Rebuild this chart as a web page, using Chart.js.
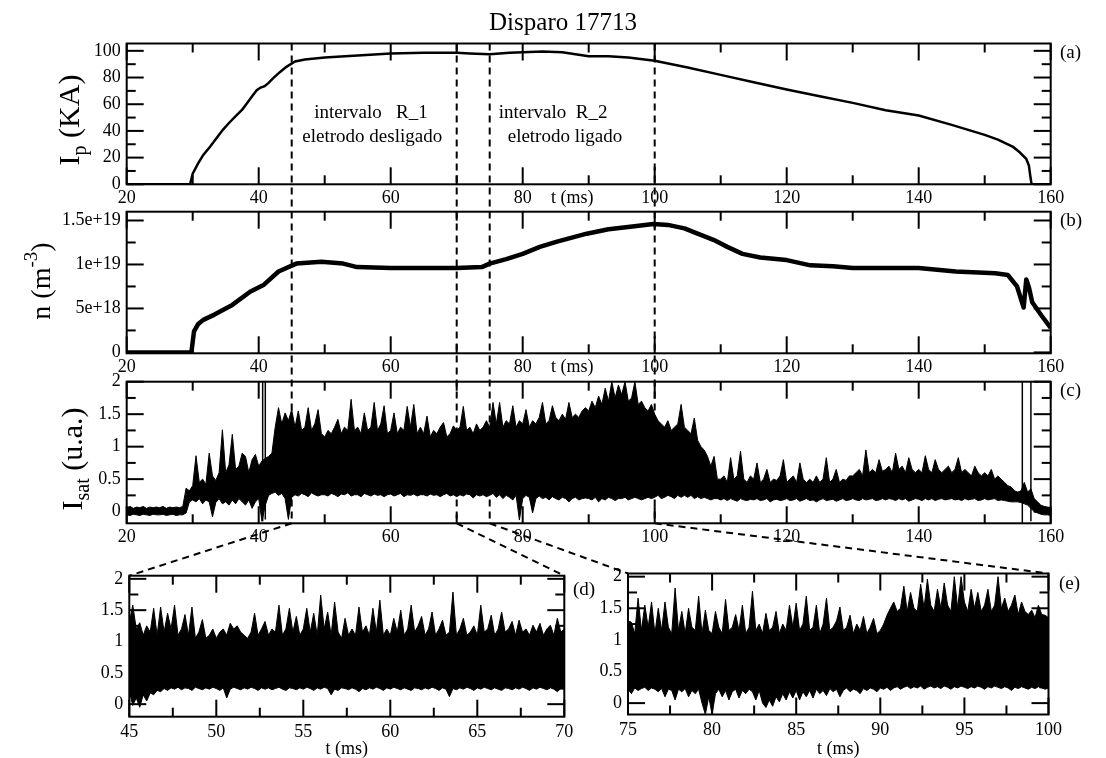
<!DOCTYPE html>
<html>
<head>
<meta charset="utf-8">
<title>Disparo 17713</title>
<script src="https://cdn.jsdelivr.net/npm/chart.js@4.4.1/dist/chart.umd.min.js"></script>
<style>
  html, body { margin: 0; padding: 0; background: #fff; }
  #wrap { position: relative; width: 1106px; height: 758px; overflow: hidden; }
  #wrap canvas { position: absolute; left: 0; top: 0; }
</style>
</head>
<body>
<div id="wrap">
  <canvas id="panelA" width="1106" height="758"></canvas>
  <canvas id="panelB" width="1106" height="758"></canvas>
  <canvas id="panelC" width="1106" height="758"></canvas>
  <canvas id="panelD" width="1106" height="758"></canvas>
  <canvas id="panelE" width="1106" height="758"></canvas>
  <canvas id="overlay" width="1106" height="758"></canvas>
</div>
<script>
// ---------------- data ----------------
// (a) plasma current, kA
const ipTime = [20, 29.6, 30.0, 30.8, 31.6, 32.6, 33.6, 34.6, 35.6, 36.7, 37.5, 38.2, 39.0, 39.7, 40.3, 40.9,
  41.5, 42.2, 43.2, 44.2, 45.5, 47, 50, 55, 60, 65, 70, 72, 75, 78, 80, 83, 86, 88, 90, 93, 96, 100,
  105, 110, 115, 120, 125, 130, 135, 140, 145, 147, 150, 152, 154.3, 155.3, 156.3, 156.7, 156.9, 157.1, 160];
const ipKA = [0, 0, 8, 15.5, 22, 28, 34.5, 41, 46.5, 52, 56, 60.5, 66, 70.5, 72.5, 73.5,
  76, 79.5, 84, 88, 92, 93.5, 95, 96.5, 98, 98.5, 98.5, 98, 97.5, 98.5, 99, 99.5, 99, 97.5, 96, 96, 95, 92.5,
  87.5, 82, 76.5, 71, 66, 61, 55.5, 51.5, 44.5, 41.5, 37, 33.5, 28, 24, 19, 14, 6.5, 0, 0];

// (b) line density, m^-3
const densTime = [20, 29.8, 30.2, 30.8, 31.6, 33.3, 36, 38.7, 40.8, 43, 45.7, 49.5, 52.8, 54.9, 60, 65, 70,
  73.8, 75, 77.5, 80, 82.6, 85.2, 89.7, 93, 96.3, 99.8, 102, 104.5, 106.5, 108.9, 111, 113.3, 116, 120,
  123.6, 127, 130, 135, 140, 145.6, 151.6, 153.5, 154.9, 155.9, 156.3, 156.7, 157.2, 158.6, 160];
const densM3 = [0, 0, 2.4e18, 3.2e18, 3.7e18, 4.3e18, 5.4e18, 6.9e18, 7.7e18, 9.2e18, 10.1e18, 10.3e18,
  10.1e18, 9.7e18, 9.6e18, 9.6e18, 9.6e18, 9.7e18, 10.1e18, 10.6e18, 11.2e18, 12.0e18, 12.6e18, 13.5e18,
  14.0e18, 14.3e18, 14.6e18, 14.5e18, 14.1e18, 13.5e18, 12.8e18, 12.0e18, 11.2e18, 10.8e18, 10.5e18,
  9.9e18, 9.8e18, 9.6e18, 9.6e18, 9.6e18, 9.2e18, 9.0e18, 8.8e18, 7.5e18, 5.1e18, 8.3e18, 7.4e18,
  5.7e18, 4.2e18, 2.8e18];

// (c) ion saturation current, upper and lower envelope sampled every 0.5 ms from 20 ms
const isatStart = 20, isatStep = 0.5;
const isatUpper = [
  0.06,0.08,0.05,0.07,0.06,0.08,0.05,0.07,0.06,0.07,
  0.06,0.08,0.05,0.07,0.06,0.07,0.06,0.08,0.36,0.32,
  0.40,0.86,0.45,0.50,0.42,0.90,0.55,0.48,0.60,1.26,
  0.60,0.72,1.19,0.65,0.70,0.90,0.85,0.60,0.80,0.88,
  0.70,0.78,0.82,0.85,0.90,1.30,1.60,1.35,1.52,1.40,
  1.57,1.30,1.55,1.25,1.30,1.60,1.25,1.35,1.57,1.20,
  1.15,1.25,1.20,1.30,1.42,1.20,1.30,1.25,1.73,1.25,
  1.30,1.20,1.52,1.25,1.30,1.68,1.25,1.35,1.63,1.20,
  1.25,1.52,1.20,1.30,1.25,1.62,1.30,1.65,1.20,1.30,
  1.20,1.47,1.15,1.25,1.20,1.30,1.37,1.15,1.20,1.32,
  1.25,1.30,1.62,1.25,1.30,1.20,1.35,1.25,1.30,1.40,
  1.30,1.68,1.35,1.68,1.30,1.40,1.35,1.63,1.30,1.40,
  1.35,1.57,1.30,1.40,1.35,1.45,1.68,1.35,1.40,1.63,
  1.45,1.40,1.50,1.42,1.68,1.45,1.50,1.45,1.55,1.60,
  1.55,1.70,1.60,1.78,1.65,1.90,1.70,2.00,1.75,1.95,
  1.80,2.00,1.70,1.75,2.00,1.65,1.70,1.60,1.55,1.65,
  1.50,1.40,1.35,1.30,1.40,1.25,1.30,1.35,1.65,1.30,
  1.25,1.20,1.44,1.10,1.00,0.95,0.85,0.70,0.85,0.50,
  0.50,0.55,0.45,0.83,0.50,0.55,0.93,0.50,0.45,0.55,
  0.50,0.75,0.45,0.50,0.65,0.45,0.50,0.48,0.55,0.80,
  0.45,0.50,0.55,0.45,0.75,0.50,0.45,0.50,0.45,0.55,
  0.45,0.50,0.83,0.45,0.50,0.65,0.45,0.50,0.48,0.55,
  0.55,0.60,0.65,0.55,0.95,0.60,0.65,0.60,0.80,0.62,
  0.65,0.70,0.60,0.90,0.65,0.70,0.60,0.83,0.65,0.60,
  0.65,0.60,0.86,0.65,0.60,0.80,0.65,0.60,0.65,0.70,
  0.60,0.65,0.83,0.60,0.65,0.60,0.55,0.70,0.60,0.55,
  0.60,0.55,0.65,0.50,0.55,0.50,0.45,0.40,0.38,0.32,
  0.30,0.32,0.45,0.30,0.35,0.20,0.15,0.10,0.08,0.07,
  0.06];
const isatLower = [
  -0.05,-0.06,-0.04,-0.05,-0.06,-0.04,-0.05,-0.06,-0.04,-0.05,
  -0.05,-0.04,-0.06,-0.05,-0.04,-0.06,-0.05,-0.05,-0.02,0.15,
  0.18,0.15,0.20,0.12,0.18,0.15,-0.08,0.14,0.20,0.12,
  0.15,0.10,0.18,0.12,0.20,0.15,0.10,0.18,0.05,0.15,
  0.20,-0.15,0.10,0.25,0.28,0.30,0.25,0.28,0.20,-0.12,
  0.22,0.26,0.24,0.28,0.26,0.23,0.29,0.26,0.24,0.26,
  0.26,0.24,0.28,0.26,0.23,0.27,0.26,0.29,0.24,0.26,
  0.26,0.23,0.28,0.26,0.24,0.27,0.25,0.26,0.23,0.26,
  0.27,0.24,0.26,0.28,0.23,0.26,0.25,0.27,0.24,0.26,
  0.26,0.24,0.27,0.25,0.26,0.23,0.26,0.28,0.24,0.26,
  0.23,0.26,0.24,0.27,0.26,0.21,0.26,0.24,0.26,0.23,
  0.25,0.28,0.22,0.26,0.20,0.25,0.22,0.18,0.25,-0.13,
  0.20,0.25,0.22,-0.02,0.20,0.24,0.20,0.22,0.18,0.23,
  0.20,0.18,0.22,0.20,0.15,0.20,0.22,0.18,0.20,0.21,
  0.20,0.18,0.22,0.15,0.20,0.18,0.22,0.20,0.17,0.20,
  0.20,0.22,0.18,0.20,0.22,0.20,0.18,0.20,0.22,0.20,
  0.22,0.25,0.20,0.22,0.25,0.23,0.20,0.25,0.22,0.25,
  0.22,0.25,0.20,0.23,0.20,0.22,0.20,0.18,0.20,0.20,
  0.18,0.20,0.17,0.20,0.18,0.16,0.20,0.18,0.17,0.19,
  0.18,0.20,0.17,0.18,0.20,0.15,0.18,0.19,0.17,0.18,
  0.20,0.17,0.18,0.20,0.16,0.18,0.20,0.17,0.18,0.15,
  0.18,0.20,0.17,0.18,0.19,0.16,0.18,0.20,0.17,0.18,
  0.20,0.18,0.17,0.20,0.18,0.19,0.20,0.17,0.18,0.20,
  0.18,0.20,0.19,0.17,0.20,0.18,0.20,0.16,0.18,0.20,
  0.19,0.17,0.20,0.18,0.20,0.17,0.19,0.20,0.18,0.19,
  0.20,0.18,0.19,0.17,0.20,0.18,0.19,0.20,0.17,0.18,
  0.20,0.18,0.19,0.20,0.17,0.18,0.17,0.16,0.15,0.15,
  0.15,0.14,0.12,0.10,0.05,0.00,-0.02,-0.04,-0.05,-0.05,
  -0.06];
// saturated excursions of the probe signal (full-scale strokes)
const isatSatTime = [40.6, 41.0, 155.7, 157.0];
const isatSatLow  = [-0.15, -0.12, -0.18, -0.15];
const isatSatHigh = [2.0, 2.0, 2.0, 2.0];

// (d) and (e) detail windows, envelopes sampled every 0.2 ms
const zoomStep = 0.2;
const zoomDStart = 45;
const zoomDUpper = [
  1.30,1.58,1.20,1.30,1.10,1.25,1.15,1.53,1.10,1.55,
  1.15,1.45,1.20,1.58,1.10,1.20,1.43,1.10,1.55,1.05,
  1.15,1.35,1.05,1.10,1.20,1.05,1.15,1.20,1.10,1.29,
  1.20,1.25,1.15,1.10,1.05,1.15,1.45,1.10,1.20,1.32,
  1.10,1.20,1.15,1.58,1.10,1.20,1.53,1.15,1.40,1.10,
  1.20,1.53,1.15,1.45,1.10,1.74,1.20,1.47,1.10,1.63,
  1.15,1.05,1.37,1.10,1.20,1.10,1.55,1.15,1.25,1.10,
  1.53,1.15,1.66,1.10,1.20,1.10,1.37,1.15,1.50,1.10,
  1.20,1.58,1.15,1.25,1.40,1.10,1.20,1.47,1.10,1.20,
  1.34,1.10,1.15,1.79,1.10,1.20,1.37,1.10,1.15,1.25,
  1.10,1.58,1.15,1.20,1.42,1.10,1.20,1.47,1.15,1.20,
  1.32,1.10,1.34,1.15,1.20,1.10,1.26,1.15,1.29,1.10,
  1.20,1.26,1.10,1.37,1.15,1.20];
const zoomDLower = [
  0.20,-0.02,0.10,-0.05,0.15,0.05,0.18,0.15,0.22,0.20,
  0.25,0.22,0.26,0.24,0.27,0.23,0.26,0.25,0.22,0.27,
  0.25,0.23,0.26,0.24,0.27,0.25,0.22,0.26,0.10,0.24,
  0.27,0.25,0.23,0.26,0.24,0.27,0.25,0.22,0.26,0.24,
  0.26,0.23,0.25,0.27,0.24,0.22,0.26,0.25,0.23,0.26,
  0.24,0.27,0.25,0.22,0.26,0.24,0.27,0.25,0.15,0.24,
  0.22,0.26,0.25,0.23,0.26,0.24,0.20,0.25,0.23,0.26,
  0.24,0.27,0.25,0.22,0.26,0.24,0.27,0.25,0.23,0.26,
  0.24,0.22,0.26,0.25,0.23,0.26,0.24,0.27,0.25,0.22,
  0.26,0.24,0.12,0.25,0.23,0.26,0.24,0.27,0.25,0.22,
  0.26,0.24,0.27,0.25,0.23,0.26,0.24,0.22,0.26,0.25,
  0.23,0.26,0.24,0.27,0.25,0.22,0.26,0.24,0.27,0.25,
  0.23,0.26,0.24,0.20,0.25,0.24];
const zoomEStart = 75;
const zoomEUpper = [
  1.30,1.28,1.10,1.66,1.15,1.55,1.20,1.60,1.10,1.50,
  1.15,1.60,1.20,1.10,1.82,1.15,1.45,1.10,1.50,1.20,
  1.15,1.69,1.10,1.47,1.15,1.10,1.45,1.20,1.10,1.64,
  1.15,1.20,1.40,1.15,1.55,1.10,1.20,1.77,1.15,1.25,
  1.10,1.42,1.15,1.20,1.45,1.10,1.25,1.15,1.55,1.20,
  1.58,1.15,1.25,1.69,1.15,1.20,1.55,1.10,1.25,1.66,
  1.15,1.20,1.30,1.52,1.15,1.20,1.39,1.10,1.25,1.15,
  1.37,1.10,1.20,1.34,1.10,1.15,1.25,1.39,1.50,1.60,
  1.45,1.50,1.85,1.45,1.75,1.50,1.45,1.88,1.50,1.96,
  1.55,1.45,1.80,1.50,1.90,1.55,1.45,2.00,1.50,2.00,
  1.60,1.45,1.80,1.50,1.75,1.45,1.55,1.80,1.45,1.55,
  2.00,1.50,1.66,1.45,1.55,1.71,1.40,1.60,1.45,1.40,
  1.47,1.35,1.55,1.40,1.39,1.35];
const zoomELower = [
  0.22,0.15,0.24,0.20,0.23,0.25,0.20,0.24,0.22,0.18,
  0.23,0.10,0.22,0.20,0.05,0.22,0.18,0.23,0.10,0.20,
  0.15,0.22,0.00,-0.18,0.10,-0.18,0.15,0.22,0.10,0.20,
  0.05,0.18,0.22,0.08,0.20,0.15,0.22,0.18,0.05,0.20,
  0.00,-0.07,0.05,-0.05,0.10,0.02,0.15,0.05,0.18,0.08,
  0.20,0.05,0.18,0.10,0.20,0.08,0.22,0.15,0.20,0.12,
  0.23,0.18,0.22,0.10,0.20,0.24,0.18,0.22,0.20,0.15,
  0.23,0.20,0.24,0.22,0.18,0.24,0.22,0.25,0.20,0.24,
  0.26,0.22,0.25,0.27,0.23,0.26,0.24,0.27,0.22,0.25,
  0.27,0.24,0.26,0.23,0.27,0.25,0.22,0.26,0.24,0.27,
  0.25,0.23,0.26,0.24,0.27,0.25,0.22,0.26,0.24,0.27,
  0.25,0.23,0.26,0.24,0.20,0.25,0.23,0.26,0.24,0.22,
  0.25,0.23,0.26,0.24,0.22,0.24];

// tick positions (labelled where they fall on the major step)
const timeTicks  = [20, 30, 40, 50, 60, 70, 80, 90, 100, 110, 120, 130, 140, 150, 160];
const ipTicks    = [0, 10, 20, 30, 40, 50, 60, 70, 80, 90, 100];
const densTicks  = [0, 2.5e18, 5e18, 7.5e18, 1e19, 1.25e19, 1.5e19];
const isatTicks  = [0, 0.25, 0.5, 0.75, 1, 1.25, 1.5, 1.75, 2];
const zoomDTicks = [45, 47.5, 50, 52.5, 55, 57.5, 60, 62.5, 65, 67.5, 70];
const zoomETicks = [75, 77.5, 80, 82.5, 85, 87.5, 90, 92.5, 95, 97.5, 100];

// interval boundaries marked across the panels (ms)
const markerTimes = [45, 70, 75, 100];

// interval notes inside panel (a)
const noteText = ['intervalo   R_1', 'eletrodo desligado', 'intervalo  R_2', 'eletrodo ligado'];
const noteTime = [57.0, 57.2, 84.6, 86.4];
const noteKA   = [53.5, 35.5, 53.5, 35.5];

// ---------------- drawing helpers ----------------
const W = 1106, H = 758;
const SERIF = '"Liberation Serif", "Times New Roman", Times, serif';
const INK = '#000';

function isMajor(v, step) {
  const r = v / step;
  return Math.abs(r - Math.round(r)) < 1e-6;
}
function seriesPoints(times, values) {
  return values.map((v, i) => ({ x: times[i], y: v }));
}
function sampledPoints(start, step, values) {
  return values.map((v, i) => ({ x: +(start + i * step).toFixed(4), y: v }));
}

const Y_BOX = 80, X_BOX = 30;
const panelAxes = new Map();
function makePanel(id, area, xs, ys, datasets) {
  const chart = new Chart(document.getElementById(id), {
    type: 'line',
    data: { datasets },
    options: {
      responsive: false,
      animation: false,
      events: [],
      layout: { padding: { left: area.l - Y_BOX, top: area.t, right: W - area.r, bottom: H - area.b - X_BOX } },
      elements: { point: { radius: 0 }, line: { tension: 0 } },
      plugins: { legend: { display: false }, tooltip: { enabled: false } },
      scales: {
        x: {
          type: 'linear', position: 'bottom', min: xs.min, max: xs.max, offset: false,
          grid: { display: false, drawTicks: false }, border: { display: false },
          afterBuildTicks: s => { s.ticks = xs.ticks.map(v => ({ value: v })); },
          afterFit: s => { s.height = X_BOX; },
          ticks: {
            autoSkip: false, maxRotation: 0, minRotation: 0,
            padding: xs.pad, color: INK, font: { family: SERIF, size: 18 },
            callback: v => isMajor(v, xs.major) ? xs.fmt(v) : ''
          }
        },
        y: {
          type: 'linear', position: 'left', min: ys.min, max: ys.max,
          grid: { display: false, drawTicks: false }, border: { display: false },
          afterBuildTicks: s => { s.ticks = ys.ticks.map(v => ({ value: v })); },
          afterFit: s => { s.width = Y_BOX; },
          ticks: {
            autoSkip: false,
            padding: 6, color: INK, font: { family: SERIF, size: 18 },
            callback: v => isMajor(v, ys.major) ? ys.fmt(v) : ''
          }
        }
      }
    }
  });
  panelAxes.set(id, { chart, xs, ys });
  return chart;
}

const plain = v => String(v);
const sci = v => (v === 0 ? '0' : v.toExponential());
const longX = { min: 20, max: 160, ticks: timeTicks, major: 20, pad: 3, fmt: plain };

function envelope(start, step, upper, lower, width) {
  return [
    { data: sampledPoints(start, step, upper), borderColor: INK, borderWidth: width, fill: false },
    { data: sampledPoints(start, step, lower), borderColor: INK, borderWidth: width, backgroundColor: INK, fill: '-1' }
  ];
}
function saturationStrokes() {
  const pts = [];
  isatSatTime.forEach((t, i) => {
    pts.push({ x: t, y: isatSatLow[i] }, { x: t, y: isatSatHigh[i] }, { x: t, y: null });
  });
  return { data: pts, borderColor: INK, borderWidth: 1.5, fill: false, spanGaps: false };
}

// ---------------- panels ----------------
const chA = makePanel('panelA', { l: 126.7, t: 43.5, r: 1050.7, b: 184.3 }, longX,
  { min: 0, max: 105.5, ticks: ipTicks, major: 20, fmt: plain },
  [{ data: seriesPoints(ipTime, ipKA), borderColor: INK, borderWidth: 2.5, fill: false }]);

const chB = makePanel('panelB', { l: 126.7, t: 211.7, r: 1050.7, b: 353.3 }, longX,
  { min: -1e17, max: 1.6e19, ticks: densTicks, major: 5e18, fmt: sci },
  [{ data: seriesPoints(densTime, densM3), borderColor: INK, borderWidth: 4.5, fill: false, borderJoinStyle: 'round' }]);

const chC = makePanel('panelC', { l: 126.7, t: 381.7, r: 1050.7, b: 523.3 }, longX,
  { min: -0.18, max: 2.0, ticks: isatTicks, major: 0.5, fmt: plain },
  envelope(isatStart, isatStep, isatUpper, isatLower, 1).concat([saturationStrokes()]));

const chD = makePanel('panelD', { l: 129.3, t: 575.7, r: 564.3, b: 716.7 },
  { min: 45, max: 70, ticks: zoomDTicks, major: 5, pad: 5, fmt: plain },
  { min: -0.2, max: 2.05, ticks: isatTicks, major: 0.5, fmt: plain },
  envelope(zoomDStart, zoomStep, zoomDUpper, zoomDLower, 1));

const chE = makePanel('panelE', { l: 628, t: 573.5, r: 1048.5, b: 714.5 },
  { min: 75, max: 100, ticks: zoomETicks, major: 5, pad: 5, fmt: plain },
  { min: -0.18, max: 2.05, ticks: isatTicks, major: 0.5, fmt: plain },
  envelope(zoomEStart, zoomStep, zoomEUpper, zoomELower, 1));

// ---------------- frames, inward ticks and shared annotations ----------------
const ov = document.getElementById('overlay').getContext('2d');
const TICK_W = 2;

function frameWithTicks(ctx, id) {
  const { chart, xs, ys } = panelAxes.get(id);
  const a = chart.chartArea;
  const xScale = chart.scales.x, yScale = chart.scales.y;
  ctx.save();
  ctx.fillStyle = INK;
  xs.ticks.forEach(v => {
    const px = xScale.getPixelForValue(v);
    const len = isMajor(v, xs.major) ? 17 : 9;
    ctx.fillRect(px - TICK_W / 2, a.bottom - len, TICK_W, len);
    ctx.fillRect(px - TICK_W / 2, a.top, TICK_W, len);
  });
  ys.ticks.forEach(v => {
    const py = yScale.getPixelForValue(v);
    const len = isMajor(v, ys.major) ? 17 : 9;
    ctx.fillRect(a.left, py - TICK_W / 2, len, TICK_W);
    ctx.fillRect(a.right - len, py - TICK_W / 2, len, TICK_W);
  });
  ctx.strokeStyle = INK;
  ctx.lineWidth = 2;
  ctx.strokeRect(a.left, a.top, a.right - a.left, a.bottom - a.top);
  ctx.restore();
}

function segment(ctx, x1, y1, x2, y2) {
  ctx.beginPath();
  ctx.moveTo(x1, y1);
  ctx.lineTo(x2, y2);
  ctx.stroke();
}

function richText(ctx, parts, x, y, rotated) {
  ctx.save();
  ctx.translate(x, y);
  if (rotated) ctx.rotate(-Math.PI / 2);
  let total = 0;
  parts.forEach(p => {
    ctx.font = p.size + 'px ' + SERIF;
    p.w = ctx.measureText(p.text).width;
    total += p.w;
  });
  let cx = -total / 2;
  ctx.textAlign = 'left';
  ctx.textBaseline = 'alphabetic';
  ctx.fillStyle = INK;
  parts.forEach(p => {
    ctx.font = p.size + 'px ' + SERIF;
    ctx.fillText(p.text, cx, p.dy || 0);
    cx += p.w;
  });
  ctx.restore();
}
function label(ctx, text, x, y, size, align) {
  ctx.save();
  ctx.font = size + 'px ' + SERIF;
  ctx.fillStyle = INK;
  ctx.textAlign = align || 'center';
  ctx.textBaseline = 'middle';
  ctx.fillText(text, x, y);
  ctx.restore();
}

['panelA', 'panelB', 'panelC', 'panelD', 'panelE'].forEach(id => frameWithTicks(ov, id));

// interval markers: vertical dashes across (a)-(c) and connectors to the detail windows
ov.save();
ov.strokeStyle = INK;
ov.lineWidth = 2;
ov.setLineDash([7, 5]);
markerTimes.forEach(t => {
  const x = chA.scales.x.getPixelForValue(t);
  segment(ov, x, chA.chartArea.top, x, chC.chartArea.bottom);
});
[[markerTimes[0], chD], [markerTimes[1], chD], [markerTimes[2], chE], [markerTimes[3], chE]].forEach(([t, target]) => {
  const x1 = chC.scales.x.getPixelForValue(t);
  const x2 = target.scales.x.getPixelForValue(t);
  segment(ov, x1, chC.chartArea.bottom, x2, target.chartArea.top);
});
ov.restore();

// title
label(ov, 'Disparo 17713', 563, 23, 25);

// axis titles
richText(ov, [{ text: 'I', size: 30 }, { text: 'p', size: 20, dy: 7 }, { text: ' (KA)', size: 30 }],
  79, 120, true);
richText(ov, [{ text: 'n (m', size: 28 }, { text: '-3', size: 19, dy: -13 }, { text: ')', size: 28 }],
  50, 281, true);
richText(ov, [{ text: 'I', size: 30 }, { text: 'sat', size: 20, dy: 7 }, { text: ' (u.a.)', size: 30 }],
  82, 459, true);

// panel tags
label(ov, '(a)', 1060, 53, 19, 'left');
label(ov, '(b)', 1060, 221, 19, 'left');
label(ov, '(c)', 1060, 391, 19, 'left');
label(ov, '(d)', 573, 590, 19, 'left');
label(ov, '(e)', 1059, 584, 19, 'left');

// time-axis captions
label(ov, 't (ms)', chA.scales.x.getPixelForValue(87.5), chA.chartArea.bottom + 14, 18);
label(ov, 't (ms)', chB.scales.x.getPixelForValue(87.5), chB.chartArea.bottom + 14, 18);
label(ov, 't (ms)', (chD.chartArea.left + chD.chartArea.right) / 2, 749, 18);
label(ov, 't (ms)', (chE.chartArea.left + chE.chartArea.right) / 2, 749, 18);

// interval notes in (a)
noteText.forEach((txt, i) => {
  label(ov, txt, chA.scales.x.getPixelForValue(noteTime[i]), chA.scales.y.getPixelForValue(noteKA[i]), 19);
});
</script>
</body>
</html>
